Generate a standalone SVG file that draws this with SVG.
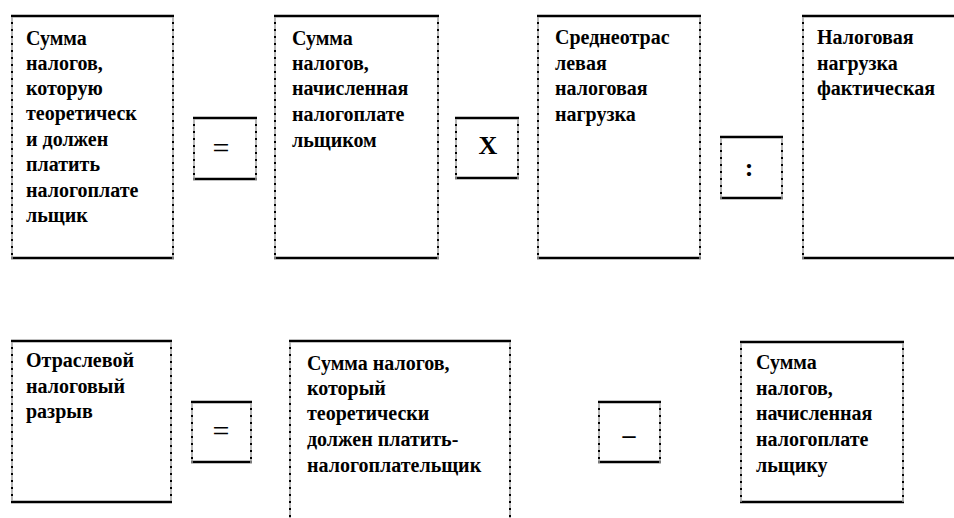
<svg xmlns="http://www.w3.org/2000/svg" width="954" height="518" viewBox="0 0 954 518">
<style>
.bg{fill:#fff}
.hz{fill:none;stroke:#000;stroke-width:2.5}
.vt{fill:none;stroke:#a0a0a0;stroke-width:1.5}
.vd{fill:none;stroke:#000;stroke-width:2;stroke-dasharray:2 5}
.t{font-family:'Liberation Serif','DejaVu Serif',serif;font-weight:700;font-size:20px;fill:#000}
.op{font-family:'Liberation Serif','DejaVu Serif',serif;font-size:30px;fill:#000;text-anchor:middle}
.opb{font-family:'Liberation Serif','DejaVu Serif',serif;font-weight:700;font-size:26px;fill:#000;text-anchor:middle}
</style>
<rect width="954" height="518" fill="#fff"/>

<g id="n1">
<rect class="bg" x="11" y="15" width="163" height="244"/>
<path class="hz" d="M11,16H174M11,258H174"/>
<path class="vt" d="M12,15V259M173,15V259"/>
<path class="vd" d="M12,15V259M173,15V259"/>
<text class="t"><tspan x="26" y="45">Сумма</tspan><tspan x="26" y="70">налогов,</tspan><tspan x="26" y="95">которую</tspan><tspan x="26" y="120">теоретическ</tspan><tspan x="26" y="146">и должен</tspan><tspan x="26" y="171">платить</tspan><tspan x="26" y="197">налогоплате</tspan><tspan x="26" y="222">льщик</tspan></text>
</g>

<g id="op1">
<rect class="bg" x="193" y="117" width="64" height="63"/>
<path class="hz" d="M193,118H257M193,179H257"/>
<path class="vt" d="M194,117V180M256,117V180"/>
<path class="vd" d="M194,117V180M256,117V180"/>
<text class="op" x="221" y="158">=</text>
</g>

<g id="n2">
<rect class="bg" x="274" y="15" width="165" height="244"/>
<path class="hz" d="M274,16H439M274,258H439"/>
<path class="vt" d="M275,15V259M438,15V259"/>
<path class="vd" d="M275,15V259M438,15V259"/>
<text class="t"><tspan x="292" y="45">Сумма</tspan><tspan x="292" y="70">налогов,</tspan><tspan x="292" y="95">начисленная</tspan><tspan x="292" y="121">налогоплате</tspan><tspan x="292" y="147">льщиком</tspan></text>
</g>

<g id="op2">
<rect class="bg" x="455" y="117" width="64" height="62"/>
<path class="hz" d="M455,118H519M455,178H519"/>
<path class="vt" d="M456,117V179M518,117V179"/>
<path class="vd" d="M456,117V179M518,117V179"/>
<text class="opb" x="488" y="154">Х</text>
</g>

<g id="n3">
<rect class="bg" x="537" y="15" width="164" height="244"/>
<path class="hz" d="M537,16H701M537,258H701"/>
<path class="vt" d="M538,15V259M700,15V259"/>
<path class="vd" d="M538,15V259M700,15V259"/>
<text class="t"><tspan x="555" y="44">Среднеотрас</tspan><tspan x="555" y="70">левая</tspan><tspan x="555" y="95">налоговая</tspan><tspan x="555" y="121">нагрузка</tspan></text>
</g>

<g id="op3">
<rect class="bg" x="720" y="136" width="63" height="63"/>
<path class="hz" d="M720,137H783M720,198H783"/>
<path class="vt" d="M721,136V199M782,136V199"/>
<path class="vd" d="M721,136V199M782,136V199"/>
<text class="opb" x="749" y="176">:</text>
</g>

<g id="n4">
<rect class="bg" x="802" y="15" width="160" height="244"/>
<path class="hz" d="M802,16H962M802,258H962"/>
<path class="vt" d="M803,15V259"/>
<path class="vd" d="M803,15V259"/>
<text class="t"><tspan x="817" y="44">Налоговая</tspan><tspan x="817" y="70">нагрузка</tspan><tspan x="817" y="95">фактическая</tspan></text>
</g>

<g id="n5">
<rect class="bg" x="11" y="340" width="161" height="163"/>
<path class="hz" d="M11,341H172M11,502H172"/>
<path class="vt" d="M12,340V503M171,340V503"/>
<path class="vd" d="M12,340V503M171,340V503"/>
<text class="t"><tspan x="26" y="367">Отраслевой</tspan><tspan x="26" y="393">налоговый</tspan><tspan x="26" y="418">разрыв</tspan></text>
</g>

<g id="op4">
<rect class="bg" x="191" y="401" width="61" height="62"/>
<path class="hz" d="M191,402H252M191,462H252"/>
<path class="vt" d="M192,401V463M251,401V463"/>
<path class="vd" d="M192,401V463M251,401V463"/>
<text class="op" x="221" y="441">=</text>
</g>

<g id="n6">
<rect class="bg" x="289" y="340" width="222" height="190"/>
<path class="hz" d="M289,341H511"/>
<path class="vt" d="M290,340V530M510,340V530"/>
<path class="vd" d="M290,340V530M510,340V530"/>
<text class="t"><tspan x="307" y="370">Сумма налогов,</tspan><tspan x="307" y="395">который</tspan><tspan x="307" y="420">теоретически</tspan><tspan x="307" y="446">должен платить-</tspan><tspan x="307" y="472">налогоплательщик</tspan></text>
</g>

<g id="op5">
<rect class="bg" x="598" y="401" width="63" height="62"/>
<path class="hz" d="M598,402H661M598,462H661"/>
<path class="vt" d="M599,401V463M660,401V463"/>
<path class="vd" d="M599,401V463M660,401V463"/>
<text class="opb" x="629" y="443">–</text>
</g>

<g id="n7">
<rect class="bg" x="740" y="341" width="164" height="162"/>
<path class="hz" d="M740,342H904M740,502H904"/>
<path class="vt" d="M741,341V503M903,341V503"/>
<path class="vd" d="M741,341V503M903,341V503"/>
<text class="t"><tspan x="756" y="369">Сумма</tspan><tspan x="756" y="395">налогов,</tspan><tspan x="756" y="420">начисленная</tspan><tspan x="756" y="446">налогоплате</tspan><tspan x="756" y="472">льщику</tspan></text>
</g>

<g id="connectors"></g>
</svg>
